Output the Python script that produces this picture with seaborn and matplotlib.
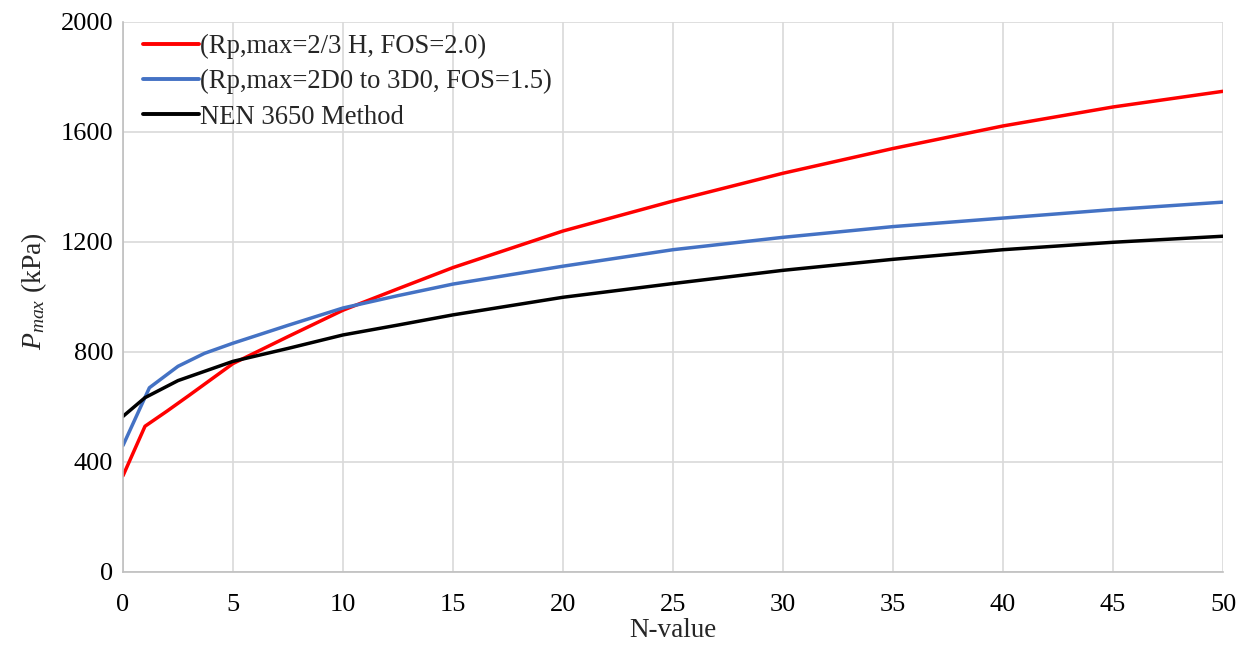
import numpy as np
import pandas as pd
import matplotlib
matplotlib.use("Agg")
import matplotlib.pyplot as plt
import seaborn as sns

# Data
red_n = [0, 1, 2, 3, 4, 5, 7.5, 10, 12.5, 15, 20, 25, 30, 35, 40, 45, 50]
red_vals = [350, 530, 585, 642, 700, 758, 856, 952, 1030, 1107, 1240, 1349, 1450, 1540, 1622, 1691, 1748]
blue_n = [0, 1.2, 2.5, 3.7, 5, 7.5, 10, 12.5, 15, 20, 25, 30, 35, 40, 45, 50]
blue_vals = [460, 670, 748, 795, 832, 897, 960, 1005, 1047, 1112, 1172, 1217, 1256, 1287, 1318, 1345]
black_n = [0, 1, 2.5, 5, 7.5, 10, 12.5, 15, 20, 25, 30, 35, 40, 45, 50]
black_vals = [566, 634, 696, 766, 813, 862, 898, 935, 999, 1049, 1097, 1137, 1172, 1199, 1221]

labels = ["(Rp,max=2/3 H, FOS=2.0)", "(Rp,max=2D0 to 3D0, FOS=1.5)", "NEN 3650 Method"]
colors = ["#FF0000", "#4472C4", "#000000"]
x_ticks = [0, 5, 10, 15, 20, 25, 30, 35, 40, 45, 50]
y_ticks = [0, 400, 800, 1200, 1600, 2000]

sns.set_theme(style="white")
plt.rcParams['font.family'] = ['Liberation Serif', 'DejaVu Serif']
plt.rcParams['mathtext.fontset'] = 'custom'
plt.rcParams['mathtext.rm'] = 'Liberation Serif'
plt.rcParams['mathtext.it'] = 'Liberation Serif:italic'

frames = []
for lab, ns, vals in zip(labels, [red_n, blue_n, black_n], [red_vals, blue_vals, black_vals]):
    frames.append(pd.DataFrame({"N": ns, "P": vals, "series": lab}))
df = pd.concat(frames, ignore_index=True)

fig = plt.figure(figsize=(12.47, 6.45), dpi=100)
ax = fig.add_axes([123/1247, 1-572/645, 1100/1247, 550/645])

sns.lineplot(data=df, x="N", y="P", hue="series", hue_order=labels,
             palette=dict(zip(labels, colors)), linewidth=2.5, ax=ax, sort=True)

ax.set_xlim(0, 50)
ax.set_ylim(0, 2000)
ax.set_xticks(x_ticks)
ax.set_yticks(y_ticks)
ax.grid(True, color="#D9D9D9", linewidth=1.2)
ax.set_axisbelow(True)
for s in ["top", "right"]:
    ax.spines[s].set_visible(False)
for s in ["left", "bottom"]:
    ax.spines[s].set_color("#BFBFBF")
    ax.spines[s].set_linewidth(1.2)
ax.tick_params(axis="both", length=0, labelsize=19, colors="black")
ax.tick_params(axis="x", pad=16)
ax.tick_params(axis="y", pad=7)
ax.set_xlabel("N-value", fontsize=19.5, labelpad=1)
ax.set_ylabel("$P_{max}$ (kPa)", fontsize=20, labelpad=8)
ax.yaxis.set_label_coords(-0.067, 0.51)

leg = ax.legend(loc="upper left", frameon=False, fontsize=19.2, handlelength=2.1,
                handletextpad=0.02, labelspacing=0.38, borderaxespad=0.05,
                bbox_to_anchor=(0.0077, 1.0))
for line in leg.get_lines():
    line.set_linewidth(2.8)

fig.savefig("out.png", dpi=100)
